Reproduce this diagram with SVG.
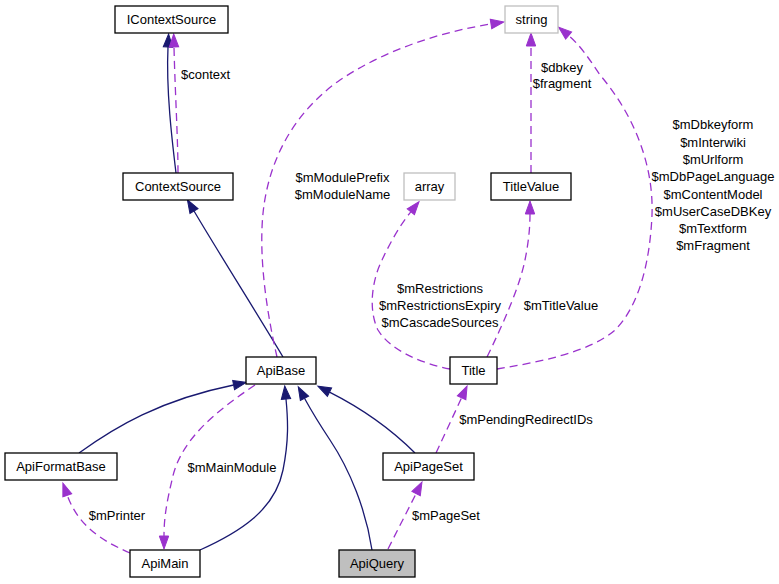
<svg xmlns="http://www.w3.org/2000/svg" width="779" height="584" viewBox="0 0 779 584">
<defs>
<style>
.node rect{fill:#ffffff;stroke:#000000;stroke-width:1.3}
.node.ext rect{stroke:#bfbfbf}
.node.cur rect{fill:#bfbfbf}
text{font-family:"Liberation Sans",Arial,Helvetica,sans-serif;font-size:13px;fill:#000000;text-anchor:middle}
.inh{fill:none;stroke:#191970;stroke-width:1.3;marker-end:url(#an)}
.use{fill:none;stroke:#9a32cd;stroke-width:1.3;stroke-dasharray:8,5;marker-end:url(#ap)}
</style>
<marker id="an" markerUnits="userSpaceOnUse" markerWidth="14" markerHeight="10" viewBox="0 0 13 10" refX="0" refY="5" orient="auto" overflow="visible">
<path d="M0,0.3 L13,5 L0,9.7 Z" fill="#191970" stroke="#191970" stroke-width="1"/>
</marker>
<marker id="ap" markerUnits="userSpaceOnUse" markerWidth="14" markerHeight="10" viewBox="0 0 13 10" refX="0" refY="5" orient="auto" overflow="visible">
<path d="M0,0.3 L13,5 L0,9.7 Z" fill="#9a32cd" stroke="#9a32cd" stroke-width="1"/>
</marker>
</defs>
<rect width="779" height="584" fill="#ffffff"/>
<g id="connectors">
<path class="inh" d="M176,173 C172,140 166,90 168,47"/>
<path class="use" d="M178,173 C178,140 175,90 174,47"/>
<text x="181" y="79" style="text-anchor:start">$context</text>
<path class="inh" d="M283,357 C260,318 220,255 194,211"/>
<path class="use" d="M277,357 C268,318 257,255 264,205 C272,150 300,108 340,80 C385,50 440,32 491,24"/>
<text x="342.5" y="181.5">$mModulePrefix</text>
<text x="342.5" y="198.5">$mModuleName</text>
<path class="inh" d="M79,453 C115,427 160,400 233.6,385"/>
<path class="use" d="M255,385 C215,412 180,440 172,480 C166,505 164,520 164,536"/>
<text x="232" y="471.5">$mMainModule</text>
<path class="inh" d="M200,550 C240,532 275,510 283,470 C289,440 288,420 286,399"/>
<path class="inh" d="M372,550 C366,510 350,470 330,440 C322,428 312,412 304.5,398.3"/>
<path class="inh" d="M415,453 C395,433 365,410 329.5,392.1"/>
<path class="use" d="M130,553 C100,540 78,525 67.3,495.3"/>
<text x="117" y="519.5">$mPrinter</text>
<path class="use" d="M388,549 L416.1,493.6"/>
<text x="446" y="519.5">$mPageSet</text>
<path class="use" d="M436,453 L461.6,397.8"/>
<text x="526" y="423.5">$mPendingRedirectIDs</text>
<path class="use" d="M487,357 C505,320 520,285 525,260 C528,245 530,230 530,214"/>
<text x="561" y="309.5">$mTitleValue</text>
<path class="use" d="M450,369 C420,363 390,350 378,330 C368,310 372,280 382,260 C390,243 400,225 410.8,211.8"/>
<text x="440" y="292.5">$mRestrictions</text>
<text x="440" y="309.5">$mRestrictionsExpiry</text>
<text x="440" y="326.5">$mCascadeSources</text>
<path class="use" d="M497,369 C540,362 590,352 615,330 C640,305 650,260 652,215 C654,160 630,110 600,75 C590,60 580,45 568.6,35.5"/>
<text x="713" y="129.3">$mDbkeyform</text>
<text x="713" y="146.6">$mInterwiki</text>
<text x="713" y="163.9">$mUrlform</text>
<text x="713" y="181.2">$mDbPageLanguage</text>
<text x="713" y="198.5">$mContentModel</text>
<text x="713" y="215.8">$mUserCaseDBKey</text>
<text x="713" y="233.1">$mTextform</text>
<text x="713" y="250.4">$mFragment</text>
<path class="use" d="M531,173 L531,46"/>
<text x="562" y="71.5">$dbkey</text>
<text x="562" y="87.5">$fragment</text>
</g>
<g id="IContextSource" class="node"><rect x="115" y="6" width="113" height="27"/><text x="171.5" y="24">IContextSource</text></g>
<g id="ContextSource" class="node"><rect x="123" y="173" width="110" height="27"/><text x="178" y="191">ContextSource</text></g>
<g id="string" class="node ext"><rect x="505" y="6" width="53" height="27"/><text x="531.5" y="24">string</text></g>
<g id="array" class="node ext"><rect x="404" y="173" width="51" height="27"/><text x="429.5" y="191">array</text></g>
<g id="TitleValue" class="node"><rect x="491" y="173" width="80" height="27"/><text x="531" y="191">TitleValue</text></g>
<g id="ApiBase" class="node"><rect x="246" y="357" width="70" height="27"/><text x="281" y="375">ApiBase</text></g>
<g id="Title" class="node"><rect x="450" y="357" width="47" height="27"/><text x="473.5" y="375">Title</text></g>
<g id="ApiFormatBase" class="node"><rect x="5" y="453" width="112" height="27"/><text x="61" y="471">ApiFormatBase</text></g>
<g id="ApiPageSet" class="node"><rect x="383" y="453" width="91" height="27"/><text x="428.5" y="471">ApiPageSet</text></g>
<g id="ApiMain" class="node"><rect x="130" y="550" width="70" height="27"/><text x="165" y="568">ApiMain</text></g>
<g id="ApiQuery" class="node cur"><rect x="339" y="550" width="76" height="27"/><text x="377" y="568">ApiQuery</text></g>
</svg>
